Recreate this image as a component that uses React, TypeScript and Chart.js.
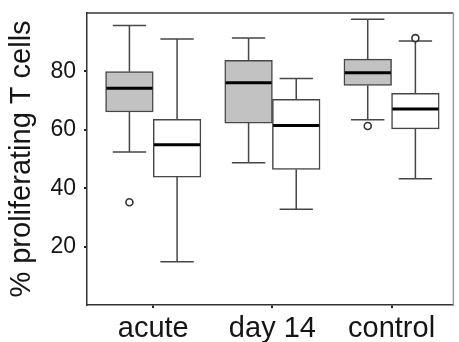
import React, { useEffect, useRef } from 'react';
import { Chart, registerables } from 'chart.js';

Chart.register(...registerables);

// ---- data ----
const categories = ['acute', 'day 14', 'control'];
const yTicks = [20, 40, 60, 80];
const yTitle = '% proliferating T cells';

// grey boxes (first series of each group)
const greyLow = [52.4, 48.7, 63.4];
const greyQ1 = [66.1, 62.3, 75.2];
const greyMedian = [74.2, 76.1, 79.5];
const greyQ3 = [79.9, 83.8, 84.2];
const greyHigh = [95.7, 91.4, 97.9];
const greyOutliers = [[35.2], [], [61.3]];

// white boxes (second series of each group)
const whiteLow = [14.8, 32.8, 43.2];
const whiteQ1 = [43.8, 46.4, 60.3];
const whiteMedian = [54.9, 61.5, 67.1];
const whiteQ3 = [63.6, 70.4, 72.5];
const whiteHigh = [91.1, 77.6, 90.4];
const whiteOutliers = [[], [], [91.4]];

const groups = [
  { offset: -0.2, low: greyLow, q1: greyQ1, med: greyMedian, q3: greyQ3, high: greyHigh, out: greyOutliers, fill: '#c2c2c2' },
  { offset: 0.2, low: whiteLow, q1: whiteQ1, med: whiteMedian, q3: whiteQ3, high: whiteHigh, out: whiteOutliers, fill: '#ffffff' },
];

const CAP_HALF = 0.14;
const LINE = '#464646';
const FONT = "'Liberation Sans', Arial, Helvetica, sans-serif";

const zeroPad = (s: any) => {
  s.paddingLeft = 0;
  s.paddingRight = 0;
  s.paddingTop = 0;
  s.paddingBottom = 0;
};

const boxPlugin = {
  id: 'boxParts',
  beforeDatasetsDraw(chart: any) {
    const { ctx, chartArea, scales } = chart;
    const x = scales.x;
    const y = scales.y;
    ctx.save();
    ctx.lineWidth = 1.5;
    ctx.strokeStyle = '#333';
    ctx.beginPath();
    ctx.moveTo(chartArea.left, chartArea.top);
    ctx.lineTo(chartArea.right, chartArea.top);
    ctx.stroke();
    ctx.strokeStyle = '#9a9a9a';
    ctx.beginPath();
    ctx.moveTo(chartArea.right, chartArea.top);
    ctx.lineTo(chartArea.right, chartArea.bottom);
    ctx.stroke();
    ctx.strokeStyle = LINE;
    ctx.lineWidth = 1.5;
    groups.forEach((g) => {
      categories.forEach((_, i) => {
        const pos = i + 1 + g.offset;
        const xc = x.getPixelForValue(pos);
        const xa = x.getPixelForValue(pos - CAP_HALF);
        const xb = x.getPixelForValue(pos + CAP_HALF);
        const yHigh = y.getPixelForValue(g.high[i]);
        const yLow = y.getPixelForValue(g.low[i]);
        const yQ3 = y.getPixelForValue(g.q3[i]);
        const yQ1 = y.getPixelForValue(g.q1[i]);
        ctx.beginPath();
        ctx.moveTo(xc, yQ3);
        ctx.lineTo(xc, yHigh);
        ctx.moveTo(xa, yHigh);
        ctx.lineTo(xb, yHigh);
        ctx.moveTo(xc, yQ1);
        ctx.lineTo(xc, yLow);
        ctx.moveTo(xa, yLow);
        ctx.lineTo(xb, yLow);
        ctx.stroke();
      });
    });
    ctx.restore();
  },
  afterDatasetsDraw(chart: any) {
    const { ctx, scales } = chart;
    const y = scales.y;
    ctx.save();
    ctx.strokeStyle = '#000';
    ctx.lineWidth = 3;
    groups.forEach((g, gi) => {
      const meta = chart.getDatasetMeta(gi);
      categories.forEach((_, i) => {
        const el = meta.data[i];
        if (!el) return;
        const ym = y.getPixelForValue(g.med[i]);
        ctx.beginPath();
        ctx.moveTo(el.x - el.width / 2 + 0.75, ym);
        ctx.lineTo(el.x + el.width / 2 - 0.75, ym);
        ctx.stroke();
      });
    });
    ctx.restore();
  },
};

export default function App() {
  const ref = useRef<HTMLCanvasElement | null>(null);

  useEffect(() => {
    if (!ref.current) return;
    const barSets = groups.map((g) => ({
      type: 'bar' as const,
      data: categories.map((_, i) => ({ x: i + 1 + g.offset, y: [g.q1[i], g.q3[i]] })),
      backgroundColor: g.fill,
      borderColor: LINE,
      borderWidth: 1.5,
      borderSkipped: false as const,
      grouped: false,
      barPercentage: 1,
      categoryPercentage: 1,
    }));
    const outlierPoints: { x: number; y: number }[] = [];
    groups.forEach((g) => {
      g.out.forEach((vals, i) => {
        vals.forEach((v) => outlierPoints.push({ x: i + 1 + g.offset, y: v }));
      });
    });
    const chart = new Chart(ref.current, {
      type: 'bar',
      data: {
        datasets: [
          ...barSets,
          {
            type: 'scatter' as const,
            data: outlierPoints,
            pointStyle: 'circle',
            pointRadius: 3.5,
            pointBackgroundColor: '#ffffff',
            pointBorderColor: '#333',
            pointBorderWidth: 1.6,
          } as any,
        ],
      },
      options: {
        animation: false,
        responsive: true,
        maintainAspectRatio: false,
        devicePixelRatio: 1,
        layout: { padding: { top: 13, right: 3, left: 0, bottom: 0 } },
        plugins: { legend: { display: false }, tooltip: { enabled: false } },
        scales: {
          x: {
            type: 'linear',
            min: 0.444,
            max: 3.519,
            offset: false,
            afterBuildTicks: (s: any) => {
              s.ticks = categories.map((_, i) => ({ value: i + 1 }));
            },
            afterFit: (s: any) => {
              s.height = 37;
              zeroPad(s);
            },
            ticks: {
              callback: (v: any) => categories[Math.round(Number(v)) - 1] ?? '',
              font: { family: FONT, size: 29 },
              color: '#151515',
              padding: 4,
              maxRotation: 0,
              autoSkip: false,
            },
            grid: { display: true, offset: false, drawOnChartArea: false, drawTicks: true, tickLength: 3, color: '#222', lineWidth: 2 },
            border: { display: true, color: '#333', width: 1.5 },
          },
          y: {
            type: 'linear',
            min: 0,
            max: 100,
            afterBuildTicks: (s: any) => {
              s.ticks = yTicks.map((v) => ({ value: v }));
            },
            afterFit: (s: any) => {
              s.width = 87;
              zeroPad(s);
            },
            ticks: {
              font: { family: FONT, size: 23 },
              color: '#151515',
              padding: 8,
            },
            grid: { display: true, drawOnChartArea: false, drawTicks: true, tickLength: 3, color: '#222', lineWidth: 2 },
            border: { display: true, color: '#333', width: 1.5 },
            title: {
              display: true,
              text: yTitle,
              font: { family: FONT, size: 29 },
              color: '#151515',
              padding: { top: 5, bottom: 0 },
            },
          },
        },
      },
      plugins: [boxPlugin],
    } as any);
    return () => chart.destroy();
  }, []);

  return (
    <div style={{ position: 'fixed', left: 0, top: 0, width: 459, height: 342, background: '#fff' }}>
      <canvas ref={ref} />
    </div>
  );
}
